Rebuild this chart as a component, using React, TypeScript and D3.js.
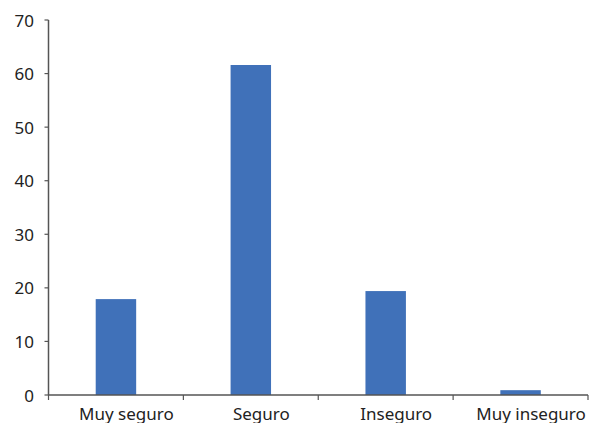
import React from "react";
import * as d3 from "d3";

const categories = ["Muy seguro", "Seguro", "Inseguro", "Muy inseguro"];
const values = [17.9, 61.6, 19.4, 0.9];
const yTicks = [0, 10, 20, 30, 40, 50, 60, 70];

const W = 590;
const H = 423;
const margin = { left: 48.5, right: 2, top: 20, bottom: 28 };

export default function App() {
  const x = d3
    .scaleBand<string>()
    .domain(categories)
    .range([margin.left, W - margin.right])
    .paddingInner(0.7)
    .paddingOuter(0.35);
  const y = d3.scaleLinear().domain([0, 70]).range([395, margin.top]);
  const step = x.step();
  const bandStart = margin.left;
  const font = "'Noto Sans', 'Open Sans', sans-serif";
  const axisColor = "#555";
  const labelShift = 10.5;

  return (
    <svg
      width={W}
      height={H}
      style={{ position: "absolute", left: 0, top: 0, background: "#fff" }}
    >
      {values.map((v, i) => (
        <rect
          key={categories[i]}
          x={x(categories[i])}
          y={y(v)}
          width={x.bandwidth()}
          height={y(0) - y(v)}
          fill="#4071B9"
        />
      ))}
      {/* y axis */}
      <line x1={margin.left} x2={margin.left} y1={y(70)} y2={y(0)} stroke={axisColor} strokeWidth={1.5} />
      {yTicks.map((t) => (
        <g key={t}>
          <line x1={margin.left - 4} x2={margin.left} y1={y(t)} y2={y(t)} stroke={axisColor} strokeWidth={1.2} />
          <text
            x={34}
            y={y(t)}
            textAnchor="end"
            dominantBaseline="central"
            fontFamily={font}
            fontSize={17}
            fill="#222"
          >
            {t}
          </text>
        </g>
      ))}
      {/* x axis */}
      <line x1={margin.left} x2={W - margin.right} y1={y(0)} y2={y(0)} stroke={axisColor} strokeWidth={1.5} />
      {d3.range(categories.length + 1).map((i) => (
        <line
          key={i}
          x1={bandStart + i * step}
          x2={bandStart + i * step}
          y1={y(0)}
          y2={y(0) + 5}
          stroke={axisColor}
          strokeWidth={1.2}
        />
      ))}
      {categories.map((c) => (
        <text
          key={c}
          x={(x(c) ?? 0) + x.bandwidth() / 2 + labelShift}
          y={420}
          textAnchor="middle"
          fontFamily={font}
          fontSize={17}
          fill="#222"
        >
          {c}
        </text>
      ))}
    </svg>
  );
}
